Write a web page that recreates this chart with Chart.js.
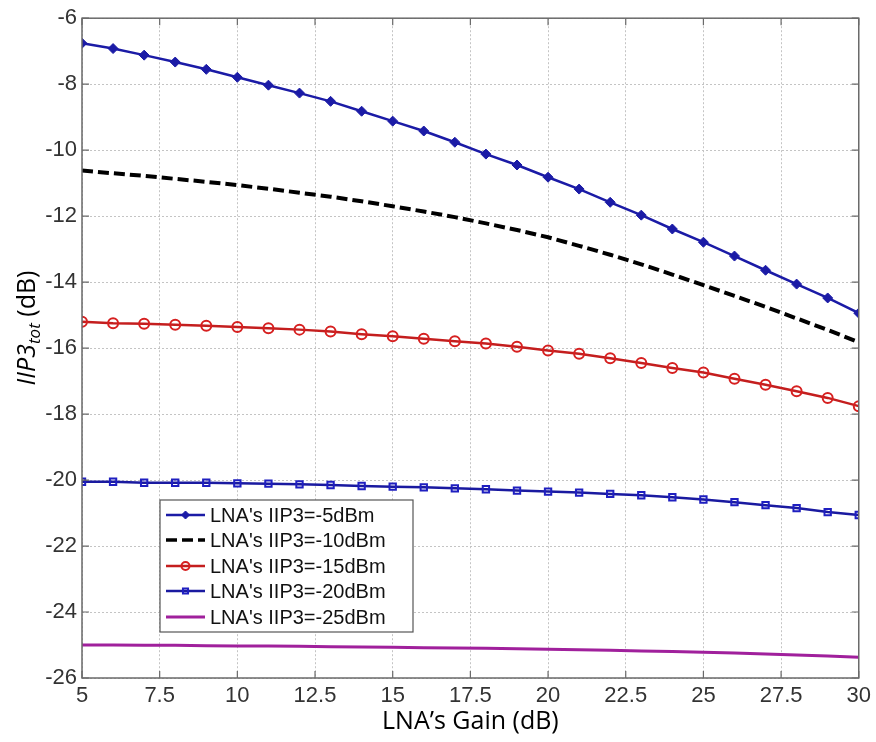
<!DOCTYPE html>
<html><head><meta charset="utf-8">
<script src="https://cdn.jsdelivr.net/npm/chart.js@4/dist/chart.umd.min.js"></script>
<style>html,body{margin:0;padding:0;background:#fff;}#wrap{width:876px;height:742px;}</style>
</head><body><div id="wrap"><canvas id="c" width="876" height="742"></canvas></div>
<script>
const gains = [5,6,7,8,9,10,11,12,13,14,15,16,17,18,19,20,21,22,23,24,25,26,27,28,29,30];
const iip3_m5  = [-6.76,-6.92,-7.12,-7.33,-7.55,-7.79,-8.03,-8.27,-8.52,-8.82,-9.12,-9.42,-9.76,-10.12,-10.45,-10.82,-11.18,-11.58,-11.97,-12.39,-12.79,-13.21,-13.64,-14.06,-14.48,-14.94];
const iip3_m10 = [-10.62,-10.70,-10.78,-10.87,-10.96,-11.06,-11.17,-11.29,-11.41,-11.55,-11.70,-11.86,-12.03,-12.22,-12.42,-12.64,-12.90,-13.17,-13.46,-13.77,-14.09,-14.42,-14.75,-15.10,-15.45,-15.82];
const iip3_m15 = [-15.20,-15.25,-15.26,-15.29,-15.32,-15.36,-15.40,-15.44,-15.50,-15.58,-15.64,-15.72,-15.79,-15.86,-15.96,-16.07,-16.17,-16.31,-16.45,-16.60,-16.74,-16.93,-17.11,-17.31,-17.51,-17.76];
const iip3_m20 = [-20.05,-20.05,-20.08,-20.08,-20.08,-20.10,-20.11,-20.13,-20.15,-20.18,-20.20,-20.22,-20.25,-20.28,-20.32,-20.35,-20.38,-20.42,-20.46,-20.52,-20.59,-20.67,-20.76,-20.85,-20.97,-21.06];
const iip3_m25 = [-25.00,-25.00,-25.01,-25.01,-25.02,-25.03,-25.03,-25.04,-25.05,-25.06,-25.07,-25.08,-25.09,-25.10,-25.11,-25.13,-25.14,-25.16,-25.18,-25.20,-25.22,-25.24,-25.27,-25.30,-25.33,-25.37];
const seriesLabels = ["LNA's IIP3=-5dBm","LNA's IIP3=-10dBm","LNA's IIP3=-15dBm","LNA's IIP3=-20dBm","LNA's IIP3=-25dBm"];
const xTicks = [5,7.5,10,12.5,15,17.5,20,22.5,25,27.5,30];
const yTicks = [-26,-24,-22,-20,-18,-16,-14,-12,-10,-8,-6];
const xTitle = "LNA\u2019s Gain (dB)";
const yTitleMain = "IIP3", yTitleSub = "tot", yTitleUnit = " (dB)";

const pts = arr => gains.map((g,i)=>({x:g,y:arr[i]}));

const boxPlugin = {
  id:'boxPlugin',
  afterDatasetsDraw(chart){
    const {ctx, chartArea:a, scales} = chart;
    ctx.save();
    ctx.strokeStyle = '#6a6a6a'; ctx.lineWidth = 1.5; ctx.setLineDash([]);
    ctx.strokeRect(a.left, a.top, a.right-a.left, a.bottom-a.top);
    const L = 7;
    ctx.lineWidth = 1.2;
    ctx.beginPath();
    scales.x.ticks.forEach(t=>{
      const px = scales.x.getPixelForValue(t.value);
      ctx.moveTo(px, a.bottom); ctx.lineTo(px, a.bottom-L);
      ctx.moveTo(px, a.top); ctx.lineTo(px, a.top+L);
    });
    scales.y.ticks.forEach(t=>{
      const py = scales.y.getPixelForValue(t.value);
      ctx.moveTo(a.left, py); ctx.lineTo(a.left+L, py);
      ctx.moveTo(a.right, py); ctx.lineTo(a.right-L, py);
    });
    ctx.stroke();
    ctx.restore();
  },
  afterDraw(chart){
    const {ctx, chartArea:a} = chart;
    ctx.save();
    ctx.fillStyle = '#000';
    ctx.font = '25px "Open Sans"';
    ctx.textAlign = 'center'; ctx.textBaseline = 'middle';
    ctx.fillText(xTitle, (a.left+a.right)/2, 722);
    ctx.translate(27, 328);
    ctx.rotate(-Math.PI/2);
    const f1 = 'italic 25px "Open Sans"', f2 = 'italic 17px "Open Sans"', f3 = '25px "Open Sans"';
    ctx.font=f1; const w1 = ctx.measureText(yTitleMain).width;
    ctx.font=f2; const w2 = ctx.measureText(yTitleSub).width;
    ctx.font=f3; const w3 = ctx.measureText(yTitleUnit).width;
    let x = -(w1+w2+w3)/2;
    ctx.textAlign = 'left'; ctx.textBaseline = 'alphabetic';
    ctx.font=f1; ctx.fillText(yTitleMain, x, 8); x+=w1;
    ctx.font=f2; ctx.fillText(yTitleSub, x, 13); x+=w2;
    ctx.font=f3; ctx.fillText(yTitleUnit, x, 8);
    ctx.restore();

    ctx.save();
    const bx=160, by=500, bw=253, bh=132;
    ctx.fillStyle='#fff'; ctx.fillRect(bx,by,bw,bh);
    ctx.strokeStyle='#555'; ctx.lineWidth=1.2; ctx.strokeRect(bx,by,bw,bh);
    const rows=[515,540,566,591,617];
    chart.data.datasets.forEach((ds,i)=>{
      const y=rows[i];
      ctx.save();
      ctx.strokeStyle=ds.borderColor; ctx.lineWidth=Math.min(ds.borderWidth,3.5);
      ctx.setLineDash(ds.borderDash||[]);
      ctx.beginPath(); ctx.moveTo(166,y); ctx.lineTo(205,y); ctx.stroke();
      ctx.setLineDash([]);
      if(ds.pointRadius>0){
        ctx.fillStyle=ds.pointBackgroundColor; ctx.strokeStyle=ds.pointBorderColor;
        ctx.lineWidth=ds.pointBorderWidth;
        Chart.helpers.drawPoint(ctx,{pointStyle:ds.pointStyle,radius:ds.pointRadius*0.8,borderWidth:ds.pointBorderWidth,rotation:0},185.5,y);
      }
      ctx.restore();
      ctx.fillStyle='#111'; ctx.font='20px "Liberation Sans"';
      ctx.textAlign='left'; ctx.textBaseline='middle';
      ctx.fillText(seriesLabels[i], 210, y+1);
    });
    ctx.restore();
  }
};

new Chart(document.getElementById('c'), {
  type:'line',
  data:{datasets:[
    {label:seriesLabels[0], data:pts(iip3_m5), borderColor:'#1b1ba6', borderWidth:2.5,
     pointStyle:'rectRot', pointRadius:5, pointBackgroundColor:'#1b1ba6', pointBorderColor:'#1b1ba6', pointBorderWidth:1},
    {label:seriesLabels[1], data:pts(iip3_m10), borderColor:'#000', borderWidth:4, borderDash:[11,5],
     pointRadius:0},
    {label:seriesLabels[2], data:pts(iip3_m15), borderColor:'#c41e1e', borderWidth:2.5,
     pointStyle:'circle', pointRadius:5, pointBackgroundColor:'rgba(255,255,255,0)', pointBorderColor:'#d62020', pointBorderWidth:2},
    {label:seriesLabels[3], data:pts(iip3_m20), borderColor:'#1a1aa0', borderWidth:2.5,
     pointStyle:'rect', pointRadius:4.5, pointBackgroundColor:'rgba(255,255,255,0)', pointBorderColor:'#1f1fc0', pointBorderWidth:2},
    {label:seriesLabels[4], data:pts(iip3_m25), borderColor:'#a0209c', borderWidth:3,
     pointRadius:0}
  ]},
  options:{
    responsive:false, animation:false, devicePixelRatio:1,
    layout:{padding:{left:0,right:16,top:18,bottom:0}},
    plugins:{legend:{display:false}, tooltip:{enabled:false}},
    elements:{line:{tension:0}},
    scales:{
      x:{type:'linear', min:5, max:30,
        afterBuildTicks(s){ s.ticks = xTicks.map(v=>({value:v})); },
        afterFit(s){ s.height = 64; },
        ticks:{color:'#333', font:{family:'Liberation Sans', size:22}, padding:5, maxRotation:0, autoSkip:false},
        grid:{color:'#c4c4c4', lineWidth:1, drawTicks:false},
        border:{display:false, dash:[2,2]}
      },
      y:{type:'linear', min:-26, max:-6,
        afterBuildTicks(s){ s.ticks = yTicks.map(v=>({value:v})); },
        afterFit(s){ s.width = 82; },
        ticks:{color:'#333', font:{family:'Liberation Sans', size:22}, padding:5, autoSkip:false},
        grid:{color:'#c4c4c4', lineWidth:1, drawTicks:false},
        border:{display:false, dash:[2,2]}
      }
    }
  },
  plugins:[boxPlugin]
});
</script></body></html>
